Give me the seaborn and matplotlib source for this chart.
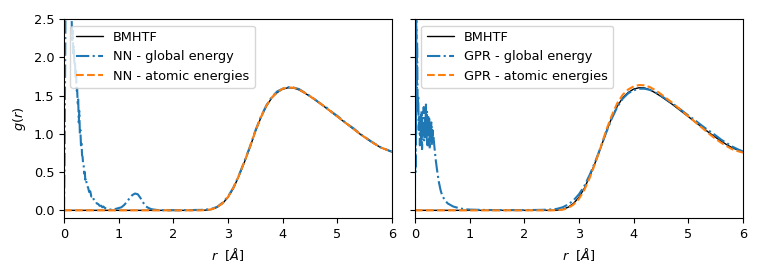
import matplotlib
matplotlib.use("Agg")
import matplotlib.pyplot as plt
import seaborn as sns

# ---------------- data ----------------
r_ref = [0.0, 0.5, 1.0, 1.5, 2.0, 2.5, 2.6, 2.7, 2.8, 2.9, 3.0, 3.1, 3.2, 3.3, 3.4, 3.5,
         3.6, 3.7, 3.8, 3.9, 4.0, 4.1, 4.2, 4.3, 4.4, 4.5, 4.6, 4.7, 4.8, 4.9, 5.0,
         5.1, 5.2, 5.3, 5.4, 5.5, 5.6, 5.7, 5.8, 5.9, 6.0]
g_bmhtf = [0.0, 0.0, 0.0, 0.0, 0.0, 0.0, 0.003, 0.012, 0.04, 0.09, 0.17, 0.29, 0.45, 0.63,
           0.82, 1.03, 1.21, 1.36, 1.47, 1.54, 1.585, 1.603, 1.600, 1.575, 1.535, 1.49,
           1.44, 1.39, 1.335, 1.28, 1.225, 1.17, 1.115, 1.06, 1.005, 0.955, 0.905, 0.86,
           0.82, 0.79, 0.765]
g_nn_atomic = [0.0, 0.0, 0.0, 0.0, 0.0, 0.0, 0.004, 0.014, 0.042, 0.093, 0.175, 0.295, 0.455,
               0.635, 0.825, 1.035, 1.215, 1.365, 1.475, 1.545, 1.59, 1.607, 1.603, 1.578,
               1.538, 1.493, 1.443, 1.392, 1.337, 1.282, 1.227, 1.172, 1.117, 1.062, 1.007,
               0.957, 0.907, 0.862, 0.822, 0.792, 0.767]
g_gpr_atomic = [0.0, 0.0, 0.0, 0.0, 0.0, 0.0, 0.002, 0.008, 0.03, 0.075, 0.15, 0.27, 0.43,
                0.62, 0.83, 1.05, 1.24, 1.40, 1.51, 1.58, 1.62, 1.638, 1.635, 1.61, 1.57,
                1.52, 1.465, 1.41, 1.35, 1.29, 1.23, 1.17, 1.11, 1.05, 0.99, 0.935, 0.885,
                0.84, 0.80, 0.775, 0.755]

r_nn_global = [0.0, 0.01, 0.02, 0.03, 0.05, 0.08, 0.10, 0.12, 0.14, 0.15, 0.16, 0.17, 0.18,
               0.19, 0.20, 0.21, 0.22, 0.23, 0.24, 0.25, 0.26, 0.27, 0.28, 0.29, 0.30, 0.31,
               0.32, 0.33, 0.34, 0.35, 0.36, 0.37, 0.38, 0.39, 0.40, 0.42, 0.44, 0.46, 0.48,
               0.50, 0.52, 0.55, 0.58, 0.60, 0.63, 0.65, 0.68, 0.70, 0.72, 0.75, 0.80, 0.85,
               0.90, 0.95, 1.00, 1.05, 1.10, 1.15, 1.20, 1.25, 1.30, 1.35, 1.40, 1.45, 1.50,
               1.55, 1.60, 1.70, 1.80, 1.90, 2.00, 2.10, 2.20, 2.30, 2.40, 2.50, 2.60, 2.70,
               2.80, 2.90, 3.00, 3.10, 3.20, 3.30, 3.40, 3.50, 3.60, 3.70, 3.80, 3.90, 4.00,
               4.10, 4.20, 4.30, 4.40, 4.50, 4.60, 4.70, 4.80, 4.90, 5.00, 5.10, 5.20, 5.30,
               5.40, 5.50, 5.60, 5.70, 5.80, 5.90, 6.00]
g_nn_global = [0.0, 0.6, 1.8, 3.0, 3.5, 2.8, 3.2, 3.0, 2.5, 2.2, 2.35, 2.05, 2.15,
               1.9, 1.95, 1.75, 1.85, 1.55, 1.6, 1.4, 1.45, 1.15, 1.3, 1.0, 1.05, 0.85,
               0.9, 0.72, 0.7, 0.6, 0.58, 0.48, 0.5, 0.4, 0.42, 0.32, 0.3, 0.24, 0.25,
               0.18, 0.19, 0.13, 0.12, 0.09, 0.08, 0.06, 0.06, 0.04, 0.05, 0.03, 0.02, 0.01,
               0.01, 0.02, 0.03, 0.04, 0.07, 0.11, 0.16, 0.20, 0.22, 0.21, 0.16, 0.10, 0.05,
               0.03, 0.015, 0.005, 0.002, 0.0, 0.002, 0.0, 0.003, 0.002, 0.005, 0.006, 0.01,
               0.02, 0.045, 0.10, 0.18, 0.30, 0.46, 0.64, 0.83, 1.04, 1.22, 1.37, 1.48,
               1.555, 1.59, 1.61, 1.605, 1.585, 1.54, 1.495, 1.445, 1.39, 1.345, 1.285,
               1.235, 1.175, 1.12, 1.07, 1.01, 0.96, 0.91, 0.865, 0.82, 0.795, 0.765]

r_gpr_global = [0.0, 0.005, 0.01, 0.015, 0.02, 0.025, 0.03, 0.04, 0.05, 0.06, 0.07, 0.08,
                0.09, 0.10, 0.11, 0.12, 0.13, 0.14, 0.15, 0.16, 0.17, 0.18, 0.19, 0.20,
                0.21, 0.22, 0.23, 0.24, 0.25, 0.26, 0.27, 0.28, 0.29, 0.30, 0.31, 0.32,
                0.33, 0.34, 0.36, 0.38, 0.40, 0.42, 0.44, 0.47, 0.50, 0.55, 0.60, 0.65,
                0.70, 0.80, 0.90, 1.0, 1.2, 1.4, 1.6, 1.8, 2.0, 2.2, 2.4, 2.5, 2.6, 2.7,
                2.8, 2.9, 3.0, 3.1, 3.2, 3.3, 3.4, 3.5, 3.6, 3.7, 3.8, 3.9, 4.0, 4.1, 4.2,
                4.3, 4.4, 4.5, 4.6, 4.7, 4.8, 4.9, 5.0, 5.1, 5.2, 5.3, 5.4, 5.5, 5.6, 5.7,
                5.8, 5.9, 6.0]
g_gpr_global = [0.0, 2.8, 0.5, 3.0, 1.0, 2.7, 1.6, 2.2, 1.3, 1.5, 1.05, 1.25, 0.85, 1.15,
                0.9, 1.3, 0.8, 1.1, 0.95, 1.35, 0.9, 1.2, 1.0, 1.40, 0.95, 1.3, 0.85, 1.25,
                1.0, 1.2, 0.8, 1.15, 0.9, 1.15, 0.85, 1.05, 0.9, 0.95, 0.8, 0.66, 0.55, 0.45,
                0.36, 0.26, 0.19, 0.13, 0.09, 0.07, 0.05, 0.03, 0.015, 0.01, 0.006, 0.004,
                0.004, 0.003, 0.004, 0.005, 0.008, 0.012, 0.02, 0.04, 0.075, 0.13, 0.21,
                0.32, 0.47, 0.64, 0.83, 1.02, 1.20, 1.35, 1.46, 1.53, 1.57, 1.59, 1.59, 1.575,
                1.54, 1.50, 1.45, 1.40, 1.35, 1.295, 1.24, 1.19, 1.135, 1.08, 1.03, 0.98,
                0.925, 0.88, 0.835, 0.80, 0.77]

x_ticks = [0, 1, 2, 3, 4, 5, 6]
y_ticks = [0.0, 0.5, 1.0, 1.5, 2.0, 2.5]

# ---------------- plot ----------------
sns.set_style("ticks")
plt.rcParams["font.family"] = ["DejaVu Sans"]
plt.rcParams.update({
    "xtick.direction": "out", "ytick.direction": "out",
    "text.color": "black", "axes.labelcolor": "black",
    "xtick.color": "black", "ytick.color": "black",
    "axes.edgecolor": "black", "font.size": 9,
})

FS = 9.3
fig, axes = plt.subplots(1, 2, figsize=(7.62, 2.77), dpi=100, sharey=True)
fig.subplots_adjust(left=0.084, right=0.975, top=0.931, bottom=0.213, wspace=0.07)

panels = [
    (axes[0], "NN", g_nn_global, r_nn_global, g_nn_atomic),
    (axes[1], "GPR", g_gpr_global, r_gpr_global, g_gpr_atomic),
]
for ax, name, g_glob, r_glob, g_atom in panels:
    sns.lineplot(x=r_ref, y=g_bmhtf, ax=ax, color="black", lw=1.0, label="BMHTF",
                 estimator=None, sort=False)
    sns.lineplot(x=r_glob, y=g_glob, ax=ax, color="#1f77b4", lw=1.5, linestyle="-.",
                 label=f"{name} - global energy", estimator=None, sort=False)
    sns.lineplot(x=r_ref, y=g_atom, ax=ax, color="#ff7f0e", lw=1.5, linestyle="--",
                 label=f"{name} - atomic energies", estimator=None, sort=False)
    ax.set_xlim(0, 6)
    ax.set_ylim(-0.1, 2.5)
    ax.set_xticks(x_ticks)
    ax.set_yticks(y_ticks)
    ax.set_xlabel(r"$r$  [$\AA$]", fontsize=FS)
    ax.legend(loc="upper left", fontsize=FS, handlelength=2.1)
    for s in ax.spines.values():
        s.set_visible(True)
    ax.tick_params(labelsize=FS)

axes[0].set_ylabel(r"$g(r)$", fontsize=FS)
axes[1].set_ylabel("")

fig.savefig("out.png", dpi=100)
